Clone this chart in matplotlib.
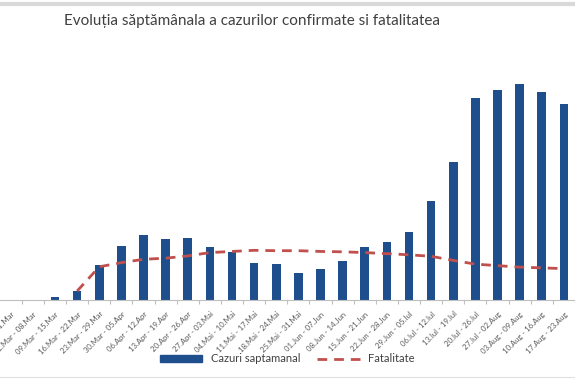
import matplotlib.pyplot as plt
from matplotlib.lines import Line2D
from matplotlib.patches import Patch

plt.rcParams['font.family'] = ['Lato', 'DejaVu Sans']

# weekly intervals shown on the x-axis
weeks = ['24.Feb - 01.Mar', '02.Mar - 08.Mar', '09.Mar - 15.Mar', '16.Mar - 22.Mar',
         '23.Mar - 29.Mar', '30.Mar - 05.Apr', '06.Apr - 12.Apr', '13.Apr - 19.Apr',
         '20.Apr - 26.Apr', '27.Apr - 03.Mai', '04.Mai - 10.Mai', '11.Mai - 17.Mai',
         '18.Mai - 24.Mai', '25.Mai - 31.Mai', '01.Jun - 07.Jun', '08.Jun - 14.Jun',
         '15.Jun - 21.Jun', '22.Jun - 28.Jun', '29.Jun - 05.Iul', '06.Iul - 12.Iul',
         '13.Iul - 19.Iul', '20.Iul - 26.Iul', '27.Iul - 02.Aug', '03.Aug - 09.Aug',
         '10.Aug - 16.Aug', '17.Aug - 23.Aug']

# weekly confirmed cases
cazuri = [0, 0, 135, 380, 1435, 2185, 2650, 2485, 2525, 2155, 1940, 1490,
          1460, 1120, 1285, 1610, 2175, 2360, 2770, 4045, 5630, 8255, 8580,
          8830, 8490, 8020]

# case fatality rate in % (estimated), starts in the 4th week
fatal_x = list(range(3, 26))
fatalitate = [1.2, 4.45, 5.0, 5.45, 5.6, 5.9, 6.35, 6.5, 6.65, 6.6, 6.6, 6.5,
              6.45, 6.35, 6.2, 6.05, 5.85, 5.3, 4.8, 4.6, 4.4, 4.3, 4.2]

blue = '#1f4e8c'
red = '#c0504d'

fig = plt.figure(figsize=(5.75, 3.87), dpi=100)
ax = fig.add_axes([0, 1 - 300 / 387, 1, 245 / 387])
ax2 = ax.twinx()

x = list(range(len(weeks)))
ax.bar(x, cazuri, width=0.39, color=blue, zorder=2)
ax2.plot(fatal_x, fatalitate, color=red, linestyle=(0, (3.5, 2.5)), linewidth=2)

ax.set_xlim(-0.487, 25.18)
ax.set_ylim(0, 10000)
ax2.set_ylim(0, 32.8)

for a in (ax, ax2):
    for s in a.spines.values():
        s.set_visible(False)
    a.set_yticks([])
ax.spines['bottom'].set_visible(True)
ax.spines['bottom'].set_color('#bfbfbf')
ax.spines['bottom'].set_linewidth(0.8)

ax.set_xticks(x)
ax.set_xticklabels(weeks, rotation=45, ha='right', rotation_mode='anchor',
                   fontsize=5.6, color='#595959')
ax.tick_params(axis='x', length=0, pad=7.5)
ax.set_xticks([i + 0.5 for i in x], minor=True)
ax.tick_params(axis='x', which='minor', length=3, color='#bfbfbf', width=0.8)

fig.text(0.438, 1 - 21 / 387, 'Evoluția săptămânala a cazurilor confirmate si fatalitatea',
         ha='center', va='center', fontsize=11, color='#404040')

handles = [Patch(color=blue), Line2D([], [], color=red, linestyle=(0, (3.5, 2.5)), linewidth=2)]
fig.legend(handles, ['Cazuri saptamanal', 'Fatalitate'], loc='center',
           bbox_to_anchor=(0.5, 1 - 359 / 387), ncol=2, frameon=False,
           fontsize=8, handlelength=3.8, handleheight=0.5, columnspacing=1.5,
           labelcolor='#404040')

fig.add_artist(Line2D([0, 1], [1 - 4 / 387] * 2, color='#d9d9d9', linewidth=3))
fig.add_artist(Line2D([0, 1], [1 - 377 / 387] * 2, color='#e0e0e0', linewidth=0.8))

fig.savefig('out.png', dpi=100)
